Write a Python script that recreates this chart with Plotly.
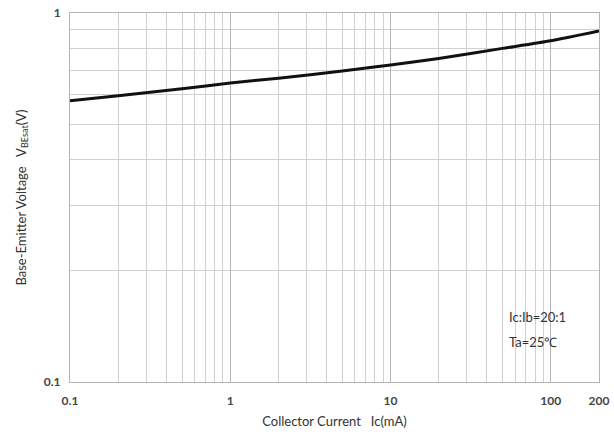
import plotly.graph_objects as go

# Data
collector_current_mA = [0.1, 0.2, 0.5, 1, 2, 5, 10, 20, 50, 100, 200]
vbe_sat_V = [0.578, 0.597, 0.623, 0.646, 0.666, 0.696, 0.723, 0.753, 0.802, 0.841, 0.894]

x_tick_vals = [0.1, 1, 10, 100, 200]
x_tick_text = ["0.1", "1", "10", "100", "200"]
x_minor_vals = [m * d for d in (0.1, 1, 10) for m in range(2, 10)] + [200]
y_tick_vals = [0.1, 1]
y_tick_text = ["0.1", "1"]
y_minor_vals = [0.2, 0.3, 0.4, 0.5, 0.6, 0.7, 0.8, 0.9]

FONT = "Lato, 'Open Sans', sans-serif"

fig = go.Figure()
fig.add_trace(go.Scatter(
    x=collector_current_mA, y=vbe_sat_V, mode="lines",
    line=dict(color="#111111", width=3, shape="spline", smoothing=0.6),
    showlegend=False, hoverinfo="skip",
))

fig.update_xaxes(
    type="log", range=[-1, 2.30103], automargin=False,
    tickmode="array", tickvals=x_tick_vals, ticktext=x_tick_text,
    showgrid=True, gridcolor="#b4b4b4", gridwidth=1,
    minor=dict(tickmode="array", tickvals=x_minor_vals, showgrid=True,
               gridcolor="#d0d0d0", gridwidth=1),
    showline=True, linecolor="#b4b4b4", linewidth=1, mirror=True,
    ticks="", ticklabelstandoff=8,
    tickfont=dict(family=FONT, size=12, color="#444444", weight="bold"),
    title=dict(text="Collector Current   Ic(mA)", standoff=9,
               font=dict(family=FONT, size=13, color="#333333")),
    zeroline=False,
)
fig.update_yaxes(
    type="log", range=[-1, 0], automargin=False,
    tickmode="array", tickvals=y_tick_vals, ticktext=y_tick_text,
    showgrid=True, gridcolor="#b4b4b4", gridwidth=1,
    minor=dict(tickmode="array", tickvals=y_minor_vals, showgrid=True,
               gridcolor="#d0d0d0", gridwidth=1),
    showline=True, linecolor="#b4b4b4", linewidth=1, mirror=True,
    ticks="", ticklabelstandoff=6,
    tickfont=dict(family=FONT, size=12, color="#444444", weight="bold"),
    title=dict(text="Base-Emitter Voltage   V<sub>BEsat</sub>(V)", standoff=14,
               font=dict(family=FONT, size=13, color="#333333")),
    zeroline=False,
)

fig.add_annotation(x=0.826, y=0.149, xref="paper", yref="paper", xanchor="left",
                   text="Ic:Ib=20:1", showarrow=False,
                   font=dict(family=FONT, size=13, color="#333333"))
fig.add_annotation(x=0.826, y=0.081, xref="paper", yref="paper", xanchor="left",
                   text="Ta=25℃", showarrow=False,
                   font=dict(family=FONT, size=13, color="#333333"))

fig.update_layout(
    width=614, height=434,
    margin=dict(l=70, r=15, t=13, b=52),
    paper_bgcolor="white", plot_bgcolor="white",
)

fig.write_html("out.html", config={"displayModeBar": False},
               post_script="document.body.style.margin='0';")
